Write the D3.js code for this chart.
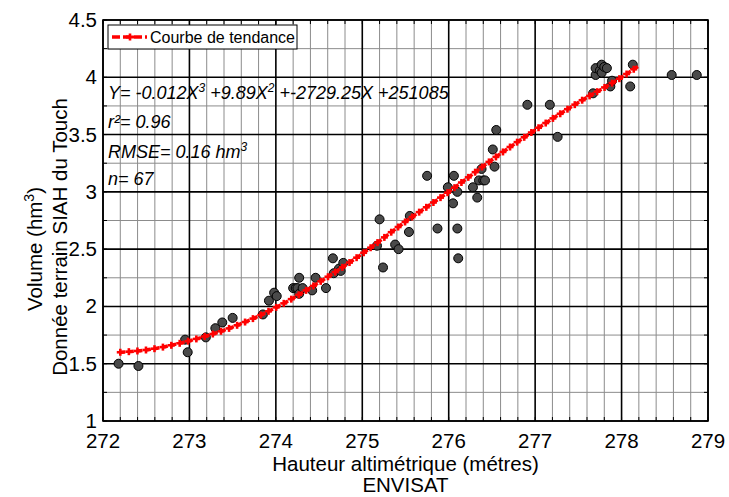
<!DOCTYPE html>
<html><head><meta charset="utf-8">
<script src="https://cdn.jsdelivr.net/npm/d3@7"></script>
<style>body{margin:0;background:#fff}svg{font-family:"Liberation Sans",Arial,sans-serif}</style>
</head><body><svg id="c" width="729" height="497"></svg>
<script>
const xTicks=[272,273,274,275,276,277,278,279];
const yTicks=[1,1.5,2,2.5,3,3.5,4,4.5];
const yTickLabels=["1","1.5","2","2.5","3","3.5","4","4.5"];
const obsX=[272.18,272.41,272.95,272.98,273.19,273.30,273.38,273.50,273.85,273.92,273.98,274.01,
274.20,274.23,274.25,274.27,274.27,274.31,274.42,274.46,274.58,274.66,274.67,274.73,274.75,274.78,275.17,275.20,275.24,275.38,275.42,275.54,275.55,
275.75,275.87,275.99,276.05,276.06,276.10,276.10,276.11,276.28,276.33,276.35,276.40,276.42,276.38,276.53,276.51,276.55,
276.91,277.17,277.26,277.67,277.70,277.70,277.75,277.77,277.77,277.80,277.83,277.87,277.89,278.10,278.13,278.58,278.87];
const obsY=[1.50,1.48,1.71,1.60,1.73,1.81,1.86,1.90,1.93,2.05,2.12,2.09,
2.16,2.16,2.16,2.25,2.11,2.16,2.14,2.25,2.16,2.42,2.29,2.33,2.31,2.38,2.53,2.76,2.34,2.54,2.50,2.65,2.79,
3.14,2.68,3.04,2.90,3.14,3.00,2.68,2.42,3.04,2.95,3.10,3.10,3.10,3.20,3.22,3.37,3.54,
3.76,3.76,3.48,3.86,4.02,4.08,4.06,4.11,4.04,4.09,4.08,3.92,3.97,3.92,4.11,4.02,4.02];
const trendX=[272.2,272.5,273.0,273.5,274.0,274.5,275.0,275.5,276.0,276.5,277.0,277.5,278.0,278.2];
const trendY=[1.60,1.62,1.70,1.82,1.99,2.21,2.46,2.74,3.00,3.28,3.54,3.78,4.00,4.10];

const svg=d3.select("#c");
const L=103,R=708,T=20,B=421;
const x=d3.scaleLinear().domain([272,279]).range([L,R]);
const y=d3.scaleLinear().domain([1,4.5]).range([B,T]);
const g=svg.append("g");
const xMinor=d3.range(0,36).map(i=>272+i*0.2).filter(v=>Math.abs(v-Math.round(v))>1e-6);
const yMinor=d3.range(0,15).map(i=>1+i*0.25).filter(v=>Math.abs(v*2-Math.round(v*2))>1e-6);
g.selectAll(".vm").data(xMinor).join("line").attr("x1",d=>x(d)).attr("x2",d=>x(d)).attr("y1",T).attr("y2",B).attr("stroke","#8c8c8c").attr("stroke-width",1);
g.selectAll(".hm").data(yMinor).join("line").attr("y1",d=>y(d)).attr("y2",d=>y(d)).attr("x1",L).attr("x2",R).attr("stroke","#8c8c8c").attr("stroke-width",1);
g.selectAll(".vM").data(xTicks).join("line").attr("x1",d=>x(d)).attr("x2",d=>x(d)).attr("y1",T).attr("y2",B).attr("stroke","#000").attr("stroke-width",1.6);
g.selectAll(".hM").data(yTicks).join("line").attr("y1",d=>y(d)).attr("y2",d=>y(d)).attr("x1",L).attr("x2",R).attr("stroke","#000").attr("stroke-width",1.6);
const tk=svg.append("g").attr("stroke","#000").attr("stroke-width",1);
xMinor.concat(xTicks).forEach(v=>{tk.append("line").attr("x1",x(v)).attr("x2",x(v)).attr("y1",B).attr("y2",B-4);tk.append("line").attr("x1",x(v)).attr("x2",x(v)).attr("y1",T).attr("y2",T+4);});
yMinor.concat(yTicks).forEach(v=>{tk.append("line").attr("y1",y(v)).attr("y2",y(v)).attr("x1",L).attr("x2",L+4);tk.append("line").attr("y1",y(v)).attr("y2",y(v)).attr("x1",R).attr("x2",R-4);});
svg.append("rect").attr("x",L).attr("y",T).attr("width",R-L).attr("height",B-T).attr("fill","none").attr("stroke","#000").attr("stroke-width",1.6);

svg.append("g").selectAll("circle").data(obsX.map((v,i)=>[v,obsY[i]])).join("circle")
 .attr("cx",d=>x(d[0])).attr("cy",d=>y(d[1])).attr("r",4.5).attr("fill","#4a4a4a").attr("stroke","#000").attr("stroke-width",1);

const line=d3.line().x(d=>x(d[0])).y(d=>y(d[1])).curve(d3.curveMonotoneX);
const tp=svg.append("path").datum(trendX.map((v,i)=>[v,trendY[i]])).attr("d",line)
 .attr("fill","none").attr("stroke","#ff0000").attr("stroke-width",3.5).attr("stroke-dasharray","5,3.6");
const len=tp.node().getTotalLength();
const mk=svg.append("g").attr("stroke","#ff0000").attr("stroke-width",2.6);
for(let s=0;s<=len;s+=8.6){const p=tp.node().getPointAtLength(s);
 mk.append("line").attr("x1",p.x-3.5).attr("x2",p.x+3.5).attr("y1",p.y).attr("y2",p.y);
 mk.append("line").attr("x1",p.x).attr("x2",p.x).attr("y1",p.y-3.5).attr("y2",p.y+3.5);}

svg.append("rect").attr("x",108).attr("y",25).attr("width",189).attr("height",24).attr("fill","#fff").attr("stroke","#000").attr("stroke-width",1);
svg.append("line").attr("x1",112).attr("x2",147).attr("y1",37).attr("y2",37).attr("stroke","#ff0000").attr("stroke-width",3.5).attr("stroke-dasharray","8,3");
svg.append("line").attr("x1",126).attr("x2",134).attr("y1",37).attr("y2",37).attr("stroke","#ff0000").attr("stroke-width",3);
svg.append("line").attr("x1",130).attr("x2",130).attr("y1",33.5).attr("y2",40.5).attr("stroke","#ff0000").attr("stroke-width",2.6);
svg.append("text").attr("x",150).attr("y",43).attr("font-size",16).text("Courbe de tendance");

const eq=svg.append("g").attr("font-style","italic").attr("font-size",18);
const t1=eq.append("text").attr("x",108).attr("y",99);
[["Y= -0.012X",0],["3",1],[" +9.89X",0],["2",1],[" +-2729.25X +251085",0]].forEach(([s,sup])=>{
 const ts=t1.append("tspan").text(s);
 if(sup) ts.attr("font-size",12).attr("baseline-shift","super");});
eq.append("text").attr("x",108).attr("y",128).text("r²= 0.96");
const t3=eq.append("text").attr("x",108).attr("y",158);
t3.append("tspan").text("RMSE= 0.16 hm");t3.append("tspan").attr("font-size",12).attr("baseline-shift","super").text("3");
eq.append("text").attr("x",108).attr("y",185).text("n= 67");

svg.append("g").selectAll("text").data(xTicks).join("text").attr("x",d=>x(d)).attr("y",448).attr("text-anchor","middle").attr("font-size",20.5).text(d=>d);
svg.append("g").selectAll("text").data(yTicks).join("text").attr("x",97).attr("y",d=>y(d)+7).attr("text-anchor","end").attr("font-size",20.5).text((d,i)=>yTickLabels[i]);

svg.append("text").attr("x",x(275.5)).attr("y",471).attr("text-anchor","middle").attr("font-size",20.5).text("Hauteur altimétrique (métres)");
svg.append("text").attr("x",x(275.5)).attr("y",492).attr("text-anchor","middle").attr("font-size",20.5).text("ENVISAT");
const yt=svg.append("text").attr("transform",`translate(42,249) rotate(-90)`).attr("text-anchor","middle").attr("font-size",20.5);
yt.append("tspan").text("Volume (hm");yt.append("tspan").attr("font-size",14).attr("baseline-shift","super").text("3");yt.append("tspan").text(")");
svg.append("text").attr("transform",`translate(67,237) rotate(-90)`).attr("text-anchor","middle").attr("font-size",20.5).text("Donnée terrain SIAH du Touch");
</script></body></html>
